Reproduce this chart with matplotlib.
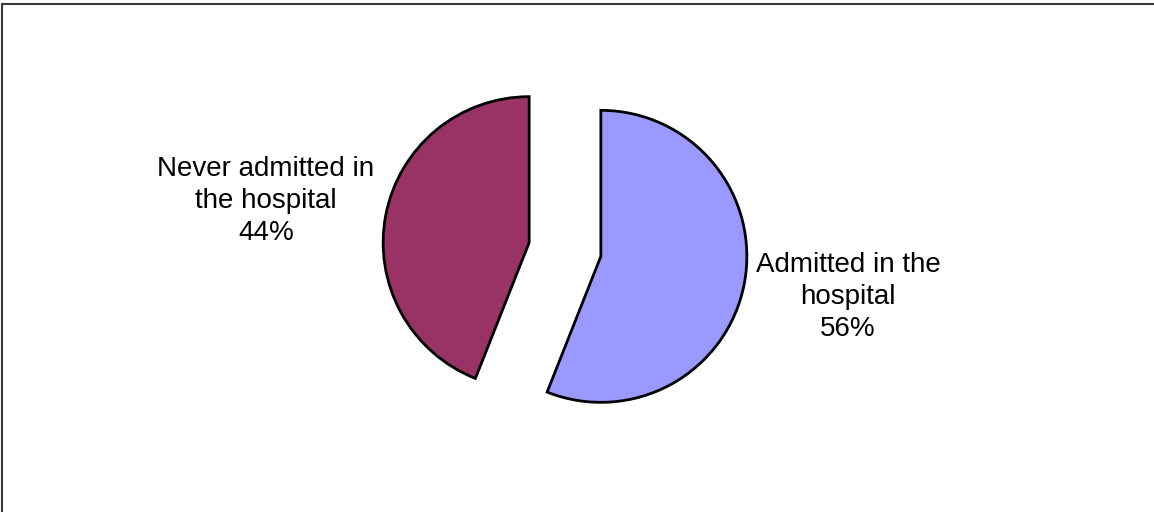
import matplotlib.pyplot as plt
from matplotlib.patches import Rectangle

W, H = 1154, 512

labels = ["Admitted in the\nhospital", "Never admitted in\nthe hospital"]
shares = [56, 44]
colors = ["#9999FF", "#993366"]
label_pos = [(848, H - 297), (266, H - 201)]

plt.rcParams['font.family'] = ['Liberation Sans', 'DejaVu Sans']

fig = plt.figure(figsize=(W / 100, H / 100), dpi=100)
ax = fig.add_axes([0, 0, 1, 1])

R = 146
# pie explode is in data units here, so scale by the radius
ax.pie(shares, colors=colors, startangle=90, counterclock=False,
       explode=[0.25 * R, 0.25 * R], radius=R, center=(565, H - 249.5),
       wedgeprops=dict(edgecolor="black", linewidth=2))

for text, share, (x, y) in zip(labels, shares, label_pos):
    ax.text(x, y, f"{text}\n{share}%", ha="center", va="center",
            fontsize=20, linespacing=1.3)

ax.set_xlim(0, W)
ax.set_ylim(0, H)
ax.set_aspect("equal")
ax.axis("off")

# outer chart frame (runs past the right and bottom edges)
fig.patches.append(Rectangle((1.5, -10), W + 20, H - 3.5 + 10, transform=None,
                             fill=False, edgecolor="#3a3a3a", linewidth=1.5))

fig.savefig("out.png", dpi=100)
